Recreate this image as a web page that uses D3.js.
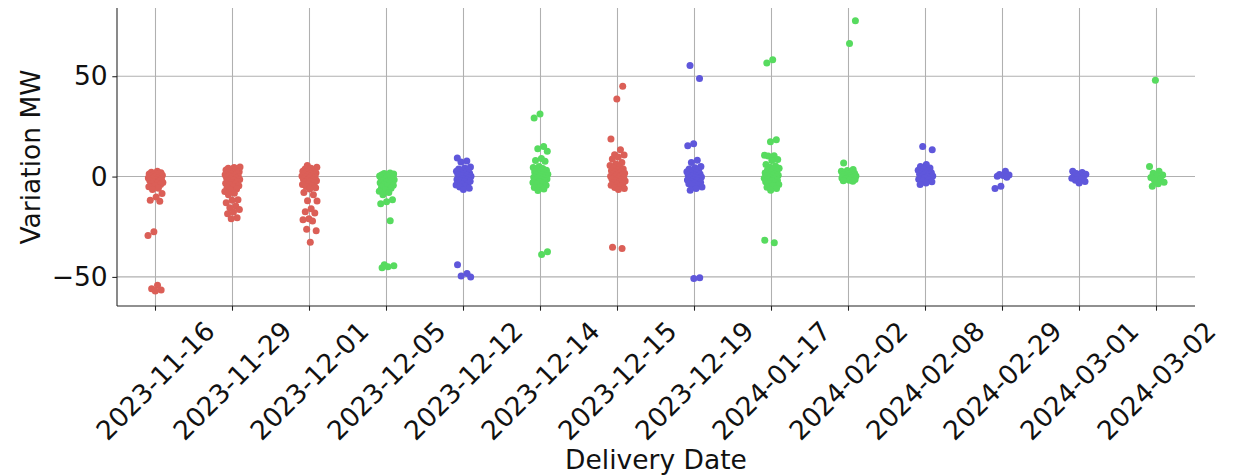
<!DOCTYPE html>
<html>
<head>
<meta charset="utf-8">
<script src="https://cdn.jsdelivr.net/npm/d3@7"></script>
<style>
  html, body { margin: 0; padding: 0; background: #ffffff; }
  svg { display: block; font-family: "DejaVu Sans", sans-serif; }
</style>
</head>
<body>
<svg id="chart" width="1243" height="476"></svg>
<script>
// Delivery dates on the x axis
const deliveryDates = [
  "2023-11-16", "2023-11-29", "2023-12-01", "2023-12-05", "2023-12-12",
  "2023-12-14", "2023-12-15", "2023-12-19", "2024-01-17", "2024-02-02",
  "2024-02-08", "2024-02-29", "2024-03-01", "2024-03-02"
];

// Hue group for each delivery date
const hueGroup = ["A", "A", "A", "B", "C", "B", "A", "C", "B", "B", "C", "C", "C", "B"];
const hueNames = ["A", "B", "C"];
const hueColors = ["#db5f57", "#57db5f", "#5f57db"];

// Variation (MW) observations for each delivery date
const variationByDate = [
  [2.6, 2.2, 1.9, 1.6, 1.3, 1.1, 0.8, 0.6, 0.4, 0.1, -0.2, -0.4, -0.7, -0.9, -1.2, -1.5, -1.7, -2.0, -2.3, -2.6, -2.9, -3.3, -3.6, -4.0, -4.5, -5.1, -5.8, -6.4, -8.4, -10.2, -11.8, -12.3, -27.5, -29.4, -54.2, -55.9, -56.5, -57.0],
  [4.8, 4.5, 4.2, 3.9, 3.6, 3.3, 3.0, 2.7, 2.4, 2.1, 1.8, 1.5, 1.2, 0.9, 0.6, 0.3, 0.0, -0.3, -0.6, -0.9, -1.2, -1.5, -1.8, -2.1, -2.5, -2.9, -3.3, -3.7, -4.1, -4.6, -5.1, -5.6, -6.2, -6.8, -7.5, -8.3, -9.0, -11.5, -11.8, -13.0, -14.7, -15.5, -16.4, -17.6, -18.5, -20.5, -21.0],
  [5.5, 4.6, 4.2, 3.8, 3.4, 3.0, 2.7, 2.4, 2.1, 1.8, 1.5, 1.2, 0.9, 0.6, 0.3, 0.0, -0.3, -0.6, -0.9, -1.2, -1.5, -1.8, -2.1, -2.4, -2.8, -3.2, -3.6, -4.0, -4.5, -5.0, -5.6, -6.2, -8.0, -9.0, -12.0, -12.2, -16.0, -17.5, -18.2, -21.0, -21.5, -22.2, -26.2, -27.0, -32.7],
  [1.8, 1.5, 1.3, 1.1, 0.9, 0.7, 0.5, 0.3, 0.1, -0.1, -0.3, -0.5, -0.7, -1.0, -1.3, -1.6, -1.9, -2.2, -2.5, -2.8, -3.1, -3.5, -3.9, -4.3, -4.8, -5.3, -5.8, -6.5, -7.3, -8.0, -9.0, -11.5, -12.5, -13.5, -22.0, -44.0, -44.5, -45.0, -45.5],
  [9.3, 7.8, 7.3, 4.8, 4.3, 3.8, 3.4, 3.0, 2.6, 2.2, 1.9, 1.6, 1.3, 1.0, 0.7, 0.4, 0.1, -0.2, -0.5, -0.8, -1.1, -1.4, -1.7, -2.0, -2.3, -2.6, -3.0, -3.4, -3.8, -4.2, -4.7, -5.2, -5.8, -6.4, -44.0, -48.3, -49.6, -50.0],
  [31.2, 29.2, 15.0, 13.8, 12.6, 9.0, 8.0, 7.6, 5.0, 4.5, 4.0, 3.5, 3.1, 2.7, 2.3, 1.9, 1.5, 1.2, 0.9, 0.6, 0.3, 0.0, -0.3, -0.6, -0.9, -1.2, -1.5, -1.8, -2.1, -2.5, -2.9, -3.3, -3.8, -4.3, -4.9, -5.5, -6.2, -7.0, -37.5, -38.8],
  [45.0, 38.6, 18.7, 13.4, 10.9, 10.8, 9.8, 8.8, 7.0, 6.2, 5.5, 4.9, 4.3, 3.8, 3.3, 2.9, 2.5, 2.1, 1.7, 1.4, 1.1, 0.8, 0.5, 0.2, -0.1, -0.4, -0.7, -1.0, -1.3, -1.6, -1.9, -2.2, -2.6, -3.0, -3.4, -3.8, -4.3, -4.8, -5.4, -6.0, -6.5, -35.2, -35.8],
  [55.4, 48.9, 16.4, 15.4, 8.1, 7.0, 5.0, 4.4, 3.8, 3.3, 2.8, 2.4, 2.0, 1.6, 1.3, 1.0, 0.7, 0.4, 0.1, -0.2, -0.5, -0.8, -1.1, -1.4, -1.7, -2.0, -2.4, -2.8, -3.2, -3.6, -4.1, -4.6, -5.2, -5.9, -6.8, -50.4, -50.8],
  [58.2, 56.6, 18.4, 17.3, 10.6, 10.4, 10.2, 8.5, 8.0, 6.0, 5.3, 4.7, 4.1, 3.6, 3.1, 2.6, 2.2, 1.8, 1.4, 1.0, 0.7, 0.4, 0.1, -0.2, -0.5, -0.8, -1.1, -1.4, -1.8, -2.2, -2.6, -3.0, -3.5, -4.0, -4.6, -5.3, -6.0, -6.8, -31.7, -33.0],
  [77.6, 66.3, 6.8, 3.5, 3.0, 2.6, 2.2, 1.9, 1.6, 1.3, 1.0, 0.8, 0.5, 0.3, 0.1, -0.1, -0.3, -0.5, -0.7, -0.9, -1.2, -1.5, -1.8, -2.1, -2.3],
  [15.0, 13.4, 6.0, 5.0, 4.3, 3.7, 3.2, 2.7, 2.3, 1.9, 1.5, 1.2, 0.9, 0.6, 0.3, 0.0, -0.3, -0.6, -0.9, -1.3, -1.7, -2.1, -2.6, -3.2, -4.0],
  [2.6, 1.0, 0.8, 0.5, 0.2, -0.3, -4.8, -6.0],
  [2.6, 2.0, 1.5, 1.1, 0.7, 0.3, 0.0, -0.4, -0.8, -1.3, -1.8, -2.5, -3.2],
  [48.0, 5.0, 2.6, 1.6, 0.8, 0.2, -0.5, -1.2, -2.0, -2.8, -3.6, -4.8]
];

const yTicks = [-50, 0, 50];
const yDomain = [-64.5, 84];

const xLabel = "Delivery Date";
const yLabel = "Variation MW";

// ---- layout ----
const W = 1243, H = 476;
const plot = { left: 117, right: 1195, top: 8, bottom: 306 };
const fontSize = 26.5;
const tickLen = 4.7, tickPad = 4.7;

const svg = d3.select("#chart");

const x = d3.scaleBand().domain(deliveryDates).range([plot.left, plot.right]).padding(0);
const y = d3.scaleLinear().domain(yDomain).range([plot.bottom, plot.top]);
const hue = d3.scaleOrdinal().domain(hueNames).range(hueColors);

// grid lines
const grid = svg.append("g").attr("stroke", "#b0b0b0").attr("stroke-width", 1.07);
grid.selectAll("line.vx").data(deliveryDates).join("line")
  .attr("x1", d => x(d) + x.bandwidth() / 2).attr("x2", d => x(d) + x.bandwidth() / 2)
  .attr("y1", plot.top).attr("y2", plot.bottom);
grid.selectAll("line.hy").data(yTicks).join("line")
  .attr("x1", plot.left).attr("x2", plot.right)
  .attr("y1", d => y(d)).attr("y2", d => y(d));

// strip points with a deterministic jitter inside each band
const jitterHalf = 0.1 * x.bandwidth();
const points = [];
variationByDate.forEach((vals, ci) => {
  vals.forEach((v, i) => {
    const u = ((i + 1) * 0.6180339887 + ci * 0.37) % 1;
    points.push({ date: deliveryDates[ci], group: hueGroup[ci], value: v, jit: (u * 2 - 1) * jitterHalf });
  });
});

svg.append("g").selectAll("circle").data(points).join("circle")
  .attr("cx", d => x(d.date) + x.bandwidth() / 2 + d.jit)
  .attr("cy", d => y(d.value))
  .attr("r", 3.5)
  .attr("fill", d => hue(d.group));

// axes
const yAxis = d3.axisLeft(y).tickValues(yTicks).tickSize(tickLen).tickPadding(tickPad)
  .tickFormat(d => d3.format("d")(d).replace("-", "\u2212"));
const gy = svg.append("g").attr("transform", `translate(${plot.left},0)`).call(yAxis);
gy.select(".domain").attr("stroke", "#222").attr("stroke-width", 1.07)
  .attr("d", `M0,${plot.top}V${plot.bottom}`);
gy.selectAll(".tick line").attr("stroke", "#222").attr("stroke-width", 1.07);
gy.selectAll(".tick text").attr("font-size", fontSize).attr("fill", "#111")
  .attr("font-family", "DejaVu Sans");

const xAxis = d3.axisBottom(x).tickSize(tickLen).tickPadding(tickPad);
const gx = svg.append("g").attr("transform", `translate(0,${plot.bottom})`).call(xAxis);
gx.select(".domain").attr("stroke", "#222").attr("stroke-width", 1.07)
  .attr("d", `M${plot.left},0H${plot.right}`);
gx.selectAll(".tick line").attr("stroke", "#222").attr("stroke-width", 1.07);

// rotated tick labels: bounding box centred under the tick
const asc = 0.93 * fontSize, desc = 0.24 * fontSize, c45 = Math.SQRT1_2;
gx.selectAll(".tick text")
  .attr("font-size", fontSize).attr("fill", "#111").attr("font-family", "DejaVu Sans")
  .attr("dy", null).attr("y", 0).attr("text-anchor", "middle")
  .each(function () {
    const w = this.getComputedTextLength();
    const top = tickLen + tickPad;
    const ax = -(desc - asc) / 2 * c45;
    const ay = top + (w / 2 + asc) * c45;
    d3.select(this).attr("transform", `translate(${ax},${ay}) rotate(-45)`);
  });

// axis titles
svg.append("text")
  .attr("x", (plot.left + plot.right) / 2).attr("y", 469)
  .attr("text-anchor", "middle").attr("font-size", fontSize).attr("fill", "#111")
  .text(xLabel);

svg.append("text")
  .attr("transform", `translate(40,${(plot.top + plot.bottom) / 2}) rotate(-90)`)
  .attr("text-anchor", "middle").attr("font-size", fontSize).attr("fill", "#111")
  .text(yLabel);
</script>
</body>
</html>
